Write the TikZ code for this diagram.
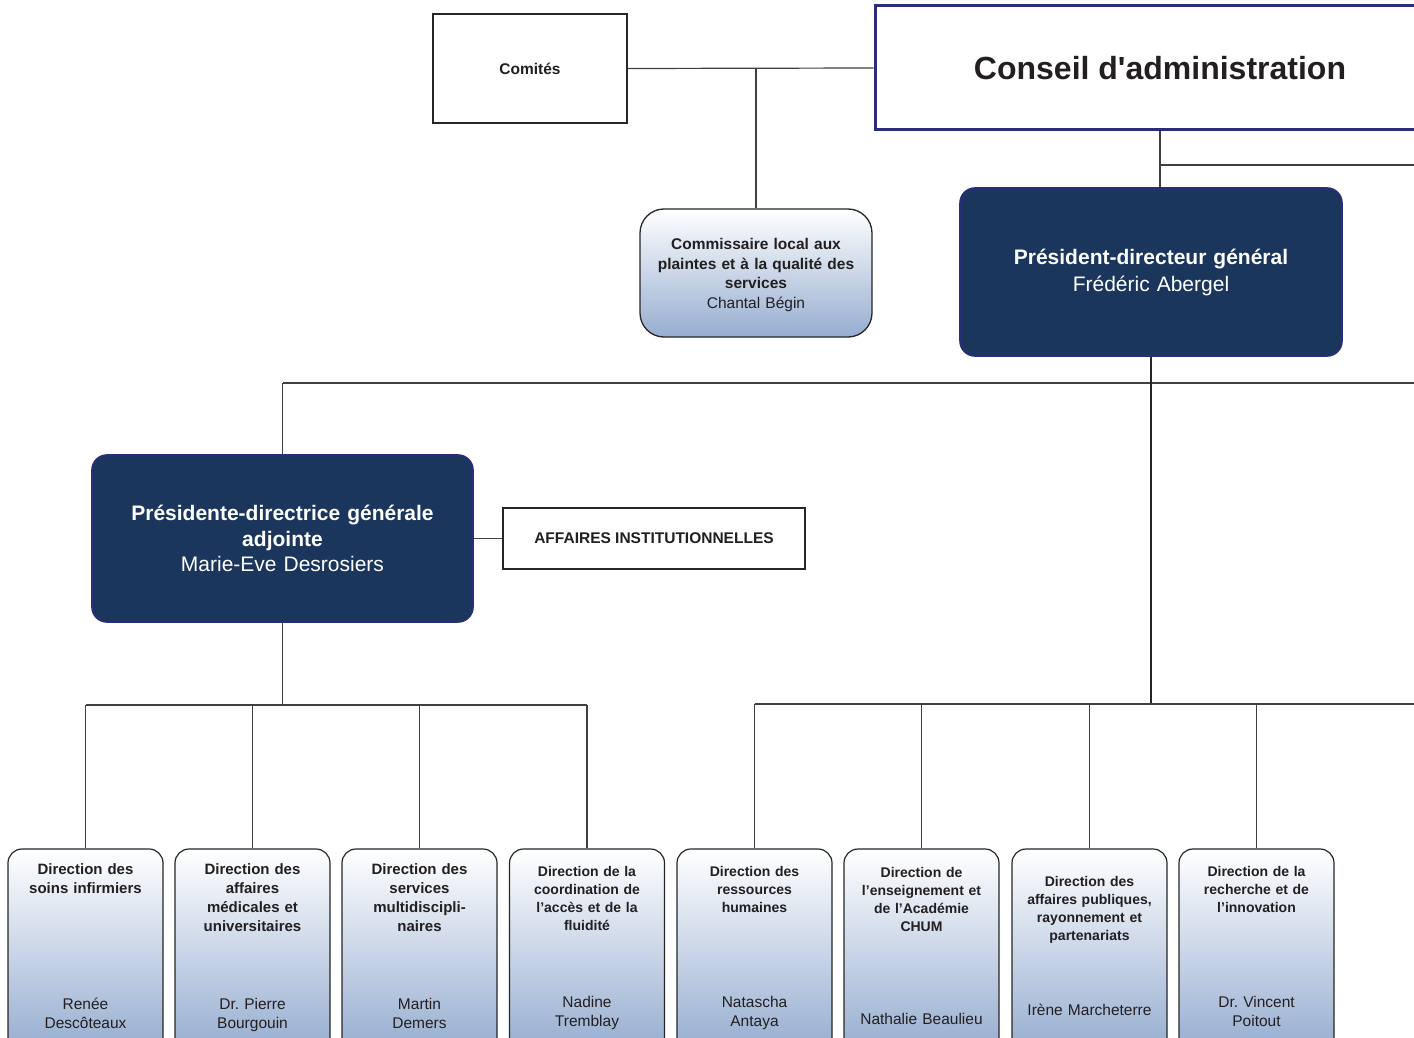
\documentclass[tikz,border=0pt]{standalone}
\usepackage{fontspec}
\setmainfont{Liberation Sans}[Ligatures=TeXOff]
\usetikzlibrary{positioning}
\definecolor{navy}{RGB}{27,54,93}
\definecolor{navyline}{RGB}{43,45,124}
\definecolor{steel}{RGB}{150,173,208}
\definecolor{ink}{RGB}{35,31,32}
\begin{document}
\begin{tikzpicture}[x=1pt,y=-1pt,
    link/.style={draw=black!75,line width=1.2pt},
    trunk/.style={draw=black!85,line width=2pt},
    plainbox/.style={draw=black!85,line width=1.3pt,fill=white,inner sep=0pt,text=ink},
    chiefbox/.style={draw=navyline,line width=1.6pt,fill=navy,rounded corners=15pt,text=white,inner sep=0pt,align=center},
    dirbox/.style={draw=black!85,line width=1.2pt,rounded corners=14pt,top color=white,middle color=white!60!steel,bottom color=steel,minimum width=155pt,minimum height=202pt,inner sep=0pt},
    dirtitle/.style={anchor=base,text width=150pt,align=center,inner sep=0pt,text=ink,font=\bfseries\fontsize{15}{19}\selectfont},
    dirtitlesm/.style={dirtitle,font=\bfseries\fontsize{14}{18}\selectfont},
    dirname/.style={anchor=base,text width=150pt,align=center,inner sep=0pt,text=ink,font=\fontsize{15.5}{19}\selectfont}]
  \useasboundingbox (0,0) rectangle (1414,1038);
  \clip (0,0) rectangle (1414,1038);

  % top level
  \node[plainbox,minimum width=194pt,minimum height=109pt,font=\bfseries\fontsize{15.5}{18}\selectfont] (comites) at (530,68.5) {Comités};
  \node[plainbox,draw=navyline,line width=3pt,minimum width=570pt,minimum height=124pt,font=\bfseries\fontsize{32}{38}\selectfont] (conseil) at (1160,68) {Conseil d'administration};
  \node[draw=black!85,line width=1.3pt,rounded corners=24pt,top color=white,middle color=white!70!steel,bottom color=steel,
    minimum width=232pt,minimum height=128pt] (commissaire) at (756,273) {};
  \node[text width=224pt,align=center,inner sep=0pt,text=ink,font=\fontsize{15.5}{19.5}\selectfont] (commissaireT) at ([yshift=-2pt]commissaire.center)
    {{\bfseries Commissaire local aux\\plaintes et à la qualité des\\services}\\Chantal Bégin};
  \node[chiefbox,minimum width=382pt,minimum height=168pt,text width=370pt,font=\fontsize{21}{27}\selectfont] (pdg) at (1151,272)
    {{\bfseries Président-directeur général}\\Frédéric Abergel};

  % second level
  \node[chiefbox,minimum width=381pt,minimum height=167pt,text width=370pt,font=\fontsize{21}{25.5}\selectfont] (pdga) at (282.5,538.5)
    {{\bfseries Présidente-directrice générale\\adjointe}\\Marie-Eve Desrosiers};
  \node[plainbox,minimum width=302pt,minimum height=61pt,font=\bfseries\fontsize{15.5}{18}\selectfont] (affinst) at (654,538.5) {AFFAIRES INSTITUTIONNELLES};

  % directions
  \node[dirbox] (dsi) at (85.5,950) {};
  \node[dirbox] (dams) at (252.5,950) {};
  \node[dirbox] (dsm) at (419.5,950) {};
  \node[dirbox] (dcaf) at (587,950) {};
  \node[dirbox] (drh) at (754.5,950) {};
  \node[dirbox] (deac) at (921.5,950) {};
  \node[dirbox] (dap) at (1089.5,950) {};
  \node[dirbox] (dri) at (1256.5,950) {};

  \node[dirtitle] (dsiT) at ([yshift=-26pt]dsi.north) {Direction des\\soins infirmiers};
  \node[dirtitle] (damsT) at ([yshift=-26pt]dams.north) {Direction des\\affaires\\médicales et\\universitaires};
  \node[dirtitle] (dsmT) at ([yshift=-26pt]dsm.north) {Direction des\\services\\multidiscipli-\\naires};
  \node[dirtitlesm] (dcafT) at ([yshift=-28pt]dcaf.north) {Direction de la\\coordination de\\l’accès et de la\\fluidité};
  \node[dirtitlesm] (drhT) at ([yshift=-28pt]drh.north) {Direction des\\ressources\\humaines};
  \node[dirtitlesm] (deacT) at ([yshift=-29pt]deac.north) {Direction de\\l’enseignement et\\de l’Académie\\CHUM};
  \node[dirtitlesm] (dapT) at ([yshift=-38pt]dap.north) {Direction des\\affaires publiques,\\rayonnement et\\partenariats};
  \node[dirtitlesm] (driT) at ([yshift=-28pt]dri.north) {Direction de la\\recherche et de\\l’innovation};

  \node[dirname] (dsiN) at ([yshift=-161pt]dsi.north) {Renée\\Descôteaux};
  \node[dirname] (damsN) at ([yshift=-161pt]dams.north) {Dr.\ Pierre\\Bourgouin};
  \node[dirname] (dsmN) at ([yshift=-161pt]dsm.north) {Martin\\Demers};
  \node[dirname] (dcafN) at ([yshift=-159pt]dcaf.north) {Nadine\\Tremblay};
  \node[dirname] (drhN) at ([yshift=-159pt]drh.north) {Natascha\\Antaya};
  \node[dirname] (deacN) at ([yshift=-176pt]deac.north) {Nathalie Beaulieu};
  \node[dirname] (dapN) at ([yshift=-167pt]dap.north) {Irène Marcheterre};
  \node[dirname] (driN) at ([yshift=-159pt]dri.north) {Dr.\ Vincent\\Poitout};

  % connectors
  \coordinate (rightA) at (1420,165);
  \coordinate (rightB) at (1420,383);
  \coordinate (rightC) at (1420,704);
  \coordinate (leftrow) at (283,705);
  \draw[link] (comites.east) -- (conseil.west);
  \draw[link] (commissaire.north |- conseil.west) -- (commissaire.north);
  \draw[link] (conseil.south) -- (conseil.south |- pdg.north);
  \draw[link] (conseil.south |- rightA) -- (rightA);
  \draw[link] (pdga.north |- rightB) -- (rightB);
  \draw[link] (pdga.north |- rightB) -- (pdga.north);
  \draw[trunk] (pdg.south) -- (pdg.south |- rightC);
  \draw[link] (drh.north |- rightC) -- (rightC);
  \draw[link] (pdga.east) -- (affinst.west);
  \draw[link] (pdga.south) -- (pdga.south |- leftrow);
  \draw[link] (dsi.north |- leftrow) -- (dcaf.north |- leftrow);
  \foreach \d in {dsi,dams,dsm,dcaf} \draw[link] (\d.north |- leftrow) -- (\d.north);
  \foreach \d in {drh,deac,dap,dri} \draw[link] (\d.north |- rightC) -- (\d.north);
\end{tikzpicture}
\end{document}
